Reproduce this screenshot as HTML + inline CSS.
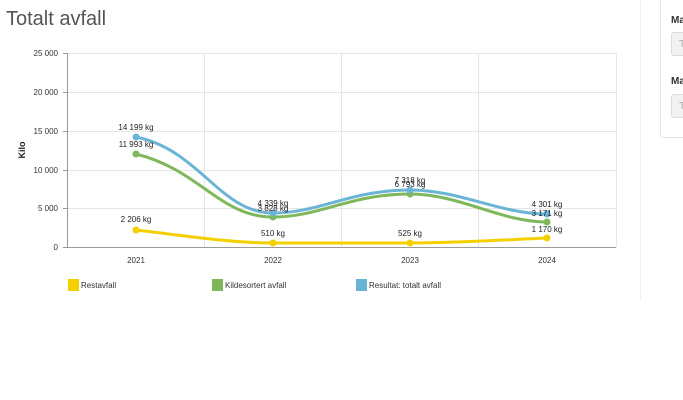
<!DOCTYPE html>
<html><head><meta charset="utf-8"><style>
body{margin:0;background:#fff;width:683px;height:400px;overflow:hidden;font-family:"Liberation Sans","DejaVu Sans",sans-serif;position:relative}
.t{position:absolute;left:6px;top:8px;font-size:20px;color:#555}
.div{position:absolute;left:640px;top:0;width:1px;height:300px;background:#eee}
.card{position:absolute;left:660px;top:-2px;width:40px;height:138px;border:1px solid #e4e4e4;border-radius:3px}
.lab{position:absolute;left:671px;font-size:10px;font-weight:bold;color:#333}
.inp{position:absolute;left:671px;width:30px;height:24px;background:#f2f2f2;border:1px solid #ddd;border-radius:3px;font-size:10px;color:#aaa;box-sizing:border-box;padding:6px 0 0 7px}
</style></head><body>
<div class="t">Totalt avfall</div>
<div class="div"></div>
<div class="card"></div>
<div class="lab" style="top:15px">Ma</div>
<div class="inp" style="top:32px">T</div>
<div class="lab" style="top:76px">Ma</div>
<div class="inp" style="top:94px">T</div>
<svg width="640" height="300" style="position:absolute;left:0;top:0" font-family="Liberation Sans, DejaVu Sans, sans-serif">
<g stroke="#e6e6e6" stroke-width="1">
<line x1="67" y1="53.5" x2="616" y2="53.5"/><line x1="67" y1="92.5" x2="616" y2="92.5"/>
<line x1="67" y1="131.5" x2="616" y2="131.5"/><line x1="67" y1="170.5" x2="616" y2="170.5"/>
<line x1="67" y1="208.5" x2="616" y2="208.5"/>
<line x1="204.5" y1="53" x2="204.5" y2="247"/><line x1="341.5" y1="53" x2="341.5" y2="247"/>
<line x1="478.5" y1="53" x2="478.5" y2="247"/><line x1="616.5" y1="53" x2="616.5" y2="247"/>
</g>
<line x1="67.5" y1="53" x2="67.5" y2="247" stroke="#999"/>
<line x1="67" y1="247.5" x2="616" y2="247.5" stroke="#999"/>
<g stroke="#999"><line x1="63" y1="53.5" x2="67" y2="53.5"/><line x1="63" y1="92.5" x2="67" y2="92.5"/><line x1="63" y1="131.5" x2="67" y2="131.5"/><line x1="63" y1="170.5" x2="67" y2="170.5"/><line x1="63" y1="208.5" x2="67" y2="208.5"/><line x1="63" y1="247.5" x2="67" y2="247.5"/></g>
<g font-size="8" fill="#333" text-anchor="end">
<text x="58" y="56">25 000</text><text x="58" y="95">20 000</text><text x="58" y="134">15 000</text><text x="58" y="173">10 000</text><text x="58" y="211">5 000</text><text x="58" y="250">0</text>
</g>
<text transform="translate(25,150) rotate(-90)" font-size="9" font-weight="bold" text-anchor="middle" fill="#222">Kilo</text>
<g font-size="8" fill="#333" text-anchor="middle">
<text x="136" y="263">2021</text><text x="273" y="263">2022</text><text x="410" y="263">2023</text><text x="547" y="263">2024</text>
</g>
<g fill="none" stroke-width="3" stroke-linecap="round">
<path stroke="#f5d000" d="M136,230 C180,235 230,243 273,243 C320,243 365,243 410,243 C455,243 500,240 547,238"/>
<path stroke="#7fb85a" d="M136,154 C200,170 220,217 273,217 C320,217 350,194 410,194 C460,194 500,222 547,222"/>
<path stroke="#6ab4d6" d="M136,137 C200,150 220,213 273,213 C320,213 350,190 410,190 C460,190 500,214 547,214"/>
</g>
<g fill="#f5d000"><circle cx="136" cy="230" r="3.5"/><circle cx="273" cy="243" r="3.5"/><circle cx="410" cy="243" r="3.5"/><circle cx="547" cy="238" r="3.5"/></g>
<g fill="#7fb85a"><circle cx="136" cy="154" r="3.5"/><circle cx="273" cy="217" r="3.5"/><circle cx="410" cy="194" r="3.5"/><circle cx="547" cy="222" r="3.5"/></g>
<g fill="#6ab4d6"><circle cx="136" cy="137" r="3.5"/><circle cx="273" cy="213" r="3.5"/><circle cx="410" cy="190" r="3.5"/><circle cx="547" cy="214" r="3.5"/></g>
<g font-size="8" fill="#222" text-anchor="middle">
<text x="136" y="130">14 199 kg</text><text x="136" y="147">11 993 kg</text><text x="136" y="222">2 206 kg</text>
<text x="273" y="206">4 339 kg</text><text x="273" y="211">3 828 kg</text><text x="273" y="236">510 kg</text>
<text x="410" y="183">7 318 kg</text><text x="410" y="187">6 793 kg</text><text x="410" y="236">525 kg</text>
<text x="547" y="207">4 301 kg</text><text x="547" y="216">3 171 kg</text><text x="547" y="232">1 170 kg</text>
</g>
<rect x="68" y="279" width="11" height="12" fill="#f5d000"/>
<rect x="212" y="279" width="11" height="12" fill="#7fb85a"/>
<rect x="356" y="279" width="11" height="12" fill="#6ab4d6"/>
<g font-size="8" fill="#333"><text x="81" y="288">Restavfall</text><text x="225" y="288">Kildesortert avfall</text><text x="369" y="288">Resultat: totalt avfall</text></g>
</svg>
</body></html>
